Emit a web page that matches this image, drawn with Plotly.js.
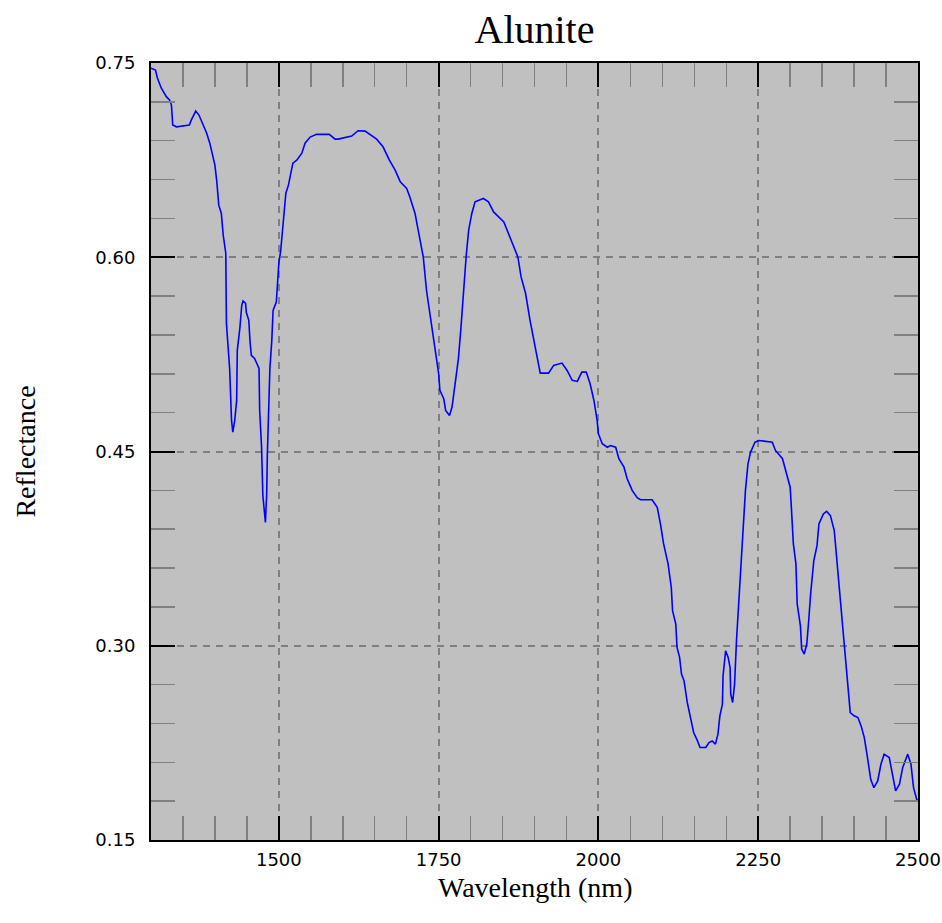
<!DOCTYPE html>
<html>
<head>
<meta charset="utf-8">
<script src="https://cdn.plot.ly/plotly-3.0.1.min.js"></script>
<style>html,body{margin:0;padding:0;background:#fff;}#chart{width:942px;height:923px;}</style>
</head>
<body>
<div id="chart"></div>
<script>
const chartTitle = "Alunite";
const xTitle = "Wavelength (nm)";
const yTitle = "Reflectance";

const wavelength = [1300,1307,1310,1316,1324,1329,1332,1334,1340,1360,1363,1370,1375,1380,1387,1392,1396,1400,1403,1406,1410,1413,1417,1418,1423,1426,1428,1431,1434,1435,1439,1442,1444,1448,1449,1453,1455,1457,1462,1466,1469,1470,1473,1475,1477,1479,1481,1482,1486,1489,1491,1496,1498,1500,1503,1507,1511,1515,1518,1522,1528,1536,1541,1549,1559,1579,1588,1593,1614,1624,1635,1643,1653,1663,1673,1682,1690,1700,1705,1713,1718,1724,1726,1731,1739,1745,1750,1752,1758,1761,1767,1771,1776,1781,1785,1789,1793,1797,1802,1807,1820,1828,1836,1852,1857,1867,1874,1879,1886,1893,1899,1904,1909,1922,1930,1943,1951,1959,1967,1974,1981,1987,1993,1998,2000,2006,2014,2019,2027,2032,2040,2045,2053,2061,2066,2084,2092,2097,2102,2109,2114,2116,2121,2123,2127,2130,2134,2139,2144,2149,2155,2159,2168,2173,2178,2183,2187,2190,2194,2195,2199,2203,2206,2207,2210,2213,2216,2220,2223,2227,2230,2234,2238,2245,2251,2272,2277,2288,2293,2300,2302,2305,2309,2311,2316,2318,2322,2326,2329,2332,2337,2342,2345,2352,2357,2363,2369,2373,2378,2384,2389,2394,2400,2406,2411,2416,2421,2426,2431,2437,2442,2447,2455,2460,2465,2471,2476,2484,2489,2493,2498,2500];

const reflectance = [0.746,0.7446,0.7384,0.7307,0.724,0.7214,0.7175,0.7021,0.7007,0.7021,0.7059,0.7129,0.7098,0.7036,0.6959,0.6881,0.6804,0.6711,0.6582,0.6402,0.634,0.617,0.6031,0.549,0.5142,0.474,0.4649,0.474,0.4894,0.5281,0.5451,0.5629,0.5662,0.5644,0.5577,0.5513,0.5345,0.5242,0.5219,0.518,0.5142,0.4817,0.4533,0.416,0.4021,0.3953,0.4175,0.4469,0.5142,0.5358,0.559,0.5654,0.5799,0.5954,0.6054,0.6286,0.6495,0.6557,0.6634,0.6727,0.675,0.6804,0.6881,0.6928,0.6949,0.6949,0.6912,0.6912,0.6936,0.6977,0.6974,0.6949,0.6912,0.6853,0.675,0.6673,0.6582,0.6531,0.6466,0.634,0.6209,0.608,0.6002,0.5745,0.5461,0.5281,0.5103,0.4972,0.4907,0.4817,0.4778,0.4843,0.5049,0.5219,0.5461,0.5745,0.6002,0.6209,0.634,0.6428,0.6454,0.6428,0.635,0.6273,0.6209,0.6093,0.6002,0.5848,0.5722,0.5513,0.5358,0.5204,0.5105,0.5105,0.5165,0.5183,0.5126,0.5049,0.5041,0.5113,0.5113,0.5023,0.4894,0.474,0.4637,0.456,0.4533,0.4546,0.4533,0.4444,0.4379,0.4289,0.4198,0.4142,0.4127,0.4127,0.4069,0.3941,0.3786,0.3632,0.3451,0.3271,0.3168,0.2987,0.291,0.2781,0.2729,0.2562,0.2446,0.233,0.2265,0.2214,0.2214,0.2252,0.2265,0.224,0.2317,0.2459,0.2549,0.2768,0.2961,0.291,0.2832,0.2627,0.2562,0.2704,0.3039,0.3348,0.365,0.3967,0.4198,0.4405,0.4495,0.4572,0.4585,0.4572,0.4508,0.4444,0.4353,0.4224,0.4057,0.3786,0.3632,0.3322,0.3155,0.2974,0.2936,0.3013,0.3193,0.34,0.3657,0.3773,0.3941,0.4018,0.4038,0.4005,0.3889,0.3657,0.34,0.3013,0.2729,0.2484,0.2459,0.2446,0.2381,0.2291,0.2136,0.1969,0.1904,0.1956,0.2085,0.2163,0.2137,0.2008,0.1879,0.1931,0.2059,0.2163,0.2085,0.1904,0.1814,0.18];

const xTickVals = [1500,1750,2000,2250,2500];
const yTickVals = [0.15,0.30,0.45,0.60,0.75];

const trace = {
  x: wavelength, y: reflectance, type: 'scatter', mode: 'lines',
  line: {color: '#0000ff', width: 1.6}, hoverinfo: 'skip'
};

const tickFont = {family: 'DejaVu Sans', size: 18, color: '#000'};
const titleFont = {family: 'Liberation Serif', size: 28, color: '#000'};

const layout = {
  width: 942, height: 923,
  margin: {l: 151, r: 24, t: 63, b: 83},
  paper_bgcolor: '#ffffff',
  plot_bgcolor: '#c0c0c0',
  showlegend: false,
  title: {text: chartTitle, font: {family: 'Liberation Serif', size: 40, color: '#000'},
          xref: 'paper', x: 0.5, xanchor: 'center', yref: 'container', y: 1 - 29/923, yanchor: 'middle'},
  annotations: [{
    text: xTitle, font: titleFont, showarrow: false,
    xref: 'paper', x: 0.5, xanchor: 'center',
    yref: 'paper', y: -47/777, yanchor: 'middle'
  }],
  xaxis: {
    range: [1300, 2500], tickmode: 'array', tickvals: xTickVals, tickformat: 'd',
    ticks: 'inside', ticklen: 24, tickwidth: 2, tickcolor: '#000',
    showline: true, linecolor: '#000', linewidth: 2, mirror: 'allticks',
    showgrid: true, gridcolor: '#7f7f7f', gridwidth: 2, griddash: '7px,6px',
    zeroline: false, tickfont: tickFont, ticklabelstandoff: 2,
    minor: {dtick: 50, tick0: 1300, ticks: 'inside', ticklen: 24, tickwidth: 1.5, tickcolor: '#808080', showgrid: false},
    automargin: false
  },
  yaxis: {
    range: [0.15, 0.75], tickmode: 'array', tickvals: yTickVals, tickformat: '.2f',
    ticks: 'inside', ticklen: 24, tickwidth: 2, tickcolor: '#000',
    showline: true, linecolor: '#000', linewidth: 2, mirror: 'allticks',
    showgrid: true, gridcolor: '#7f7f7f', gridwidth: 2, griddash: '7px,6px',
    zeroline: false, tickfont: tickFont, ticklabelstandoff: 10,
    minor: {dtick: 0.03, tick0: 0.15, ticks: 'inside', ticklen: 24, tickwidth: 1.5, tickcolor: '#808080', showgrid: false},
    title: {text: yTitle, font: titleFont, standoff: 52},
    automargin: false
  }
};

Plotly.newPlot('chart', [trace], layout, {displayModeBar: false, staticPlot: true});
</script>
</body>
</html>
